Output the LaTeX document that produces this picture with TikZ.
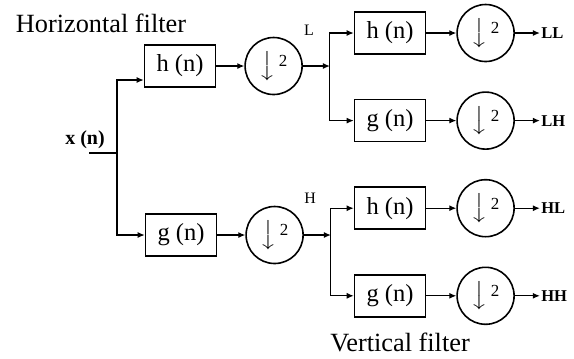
\documentclass[tikz,border=0pt]{standalone}
\usepackage{amsmath}
\usepackage{fontspec}
\setmainfont{Liberation Serif}
\usepackage{tikz}
\usetikzlibrary{arrows.meta,positioning}
\newcommand{\downtwo}{$\big\downarrow$\kern1.5bp\raisebox{2.5bp}{\fontsize{8.5}{8.5}\selectfont 2}}

\begin{document}
\begin{tikzpicture}[
  x=0.5bp, y=-0.5bp,
  every node/.style={font=\fontsize{12.3}{14}\selectfont},
  filterbox/.style={rectangle, draw, thick, minimum width=35.5bp, minimum height=21bp, inner sep=0pt},
  downsample/.style={circle, draw, thick, minimum size=28.5bp, inner sep=0pt},
  outlabel/.style={font=\fontsize{8.3}{10}\selectfont\bfseries, inner sep=0.5bp},
  branchlabel/.style={font=\fontsize{8}{10}\selectfont},
  title/.style={font=\fontsize{13.2}{15}\selectfont},
  arrow/.style={-{Latex[length=3.5bp,width=3bp]}, semithick},
]
\useasboundingbox (0,0) rectangle (574,358);

% Titles
\node[title] (hfilt) at (101,23) {Horizontal filter};
\node[title] (vfilt) at (400,342) {Vertical filter};

% Input
\node[font=\fontsize{10}{12}\selectfont\bfseries] (xn) at (85,140) {x (n)};
\coordinate (in) at (89,153);
\coordinate (split) at (117,153);

% Horizontal stage
\node[filterbox] (h1) at (180,66) {h (n)};
\node[downsample, right=14bp of h1] (d1) {\downtwo};
\node[filterbox] (g1) at (181,235) {g (n)};
\node[downsample, right=14bp of g1] (d2) {\downtwo};
\coordinate[right=13.5bp of d1] (sL);
\coordinate[right=13.5bp of d2] (sH);
\node[branchlabel] (lbL) at (309,30) {L};
\node[branchlabel] (lbH) at (310,198) {H};

% Vertical stage
\node[filterbox] (h2) at (390,33) {h (n)};
\node[filterbox, below=22bp of h2] (g2) {g (n)};
\node[filterbox, below=22bp of g2] (h3) {h (n)};
\node[filterbox, below=22bp of h3] (g3) {g (n)};
\node[downsample, right=15bp of h2] (d3) {\downtwo};
\node[downsample, right=15bp of g2] (d4) {\downtwo};
\node[downsample, right=15bp of h3] (d5) {\downtwo};
\node[downsample, right=15bp of g3] (d6) {\downtwo};

% Outputs
\node[outlabel, right=12.5bp of d3] (ll) {LL};
\node[outlabel, right=12.5bp of d4] (lh) {LH};
\node[outlabel, right=12.5bp of d5] (hl) {HL};
\node[outlabel, right=12.5bp of d6] (hh) {HH};

% Arrows
\draw[semithick] (in) -- (split);
\draw[arrow] (split) |- ([yshift=-7bp]h1.west);
\draw[arrow] (split) |- (g1);
\draw[arrow] (h1) -- (d1);
\draw[arrow] (g1) -- (d2);
\draw[arrow] (d1) -- (sL);
\draw[arrow] (d2) -- (sH);
\draw[arrow] (sL) |- (h2);
\draw[arrow] (sL) |- (g2);
\draw[arrow] (sH) |- (h3);
\draw[arrow] (sH) |- (g3);
\draw[arrow] (h2) -- (d3);
\draw[arrow] (g2) -- (d4);
\draw[arrow] (h3) -- (d5);
\draw[arrow] (g3) -- (d6);
\draw[arrow] (d3) -- (ll);
\draw[arrow] (d4) -- (lh);
\draw[arrow] (d5) -- (hl);
\draw[arrow] (d6) -- (hh);
\end{tikzpicture}
\end{document}
